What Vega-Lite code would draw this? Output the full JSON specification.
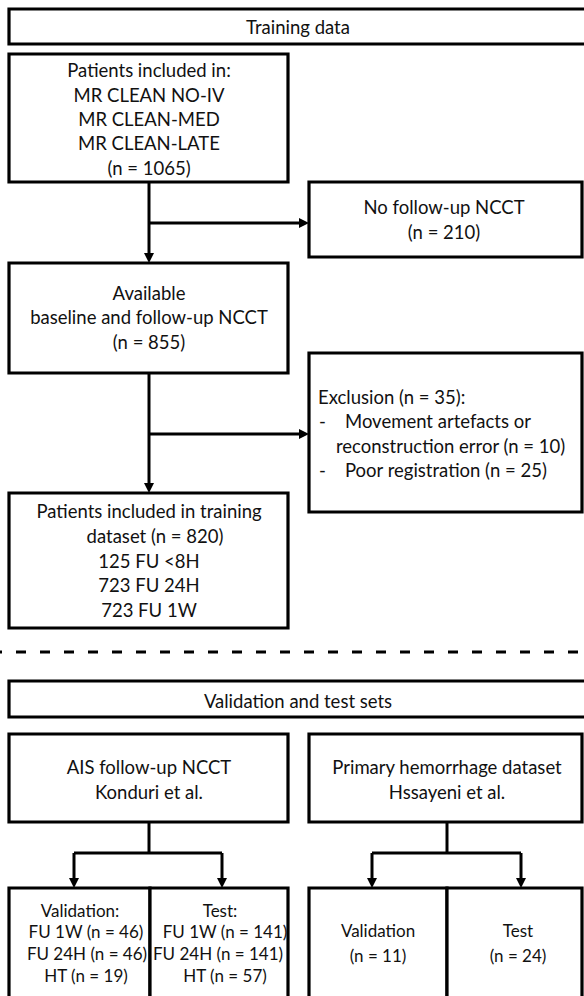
{
  "$schema": "https://vega.github.io/schema/vega-lite/v6.json",
  "width": 584,
  "height": 996,
  "padding": 0,
  "autosize": {"type": "none"},
  "background": "white",
  "config": {"view": {"stroke": null}},
  "datasets": {
    "boxes": [
      {"name": "Training data", "x1": 9, "x2": 600, "y1": 9, "y2": 44},
      {"name": "Patients included", "x1": 9, "x2": 288, "y1": 54, "y2": 182},
      {"name": "No follow-up", "x1": 309, "x2": 582, "y1": 182, "y2": 257},
      {"name": "Available", "x1": 9, "x2": 288, "y1": 263, "y2": 373},
      {"name": "Exclusion", "x1": 309, "x2": 582, "y1": 353, "y2": 512},
      {"name": "Training dataset", "x1": 9, "x2": 288, "y1": 493, "y2": 628},
      {"name": "Validation and test sets", "x1": 9, "x2": 600, "y1": 681, "y2": 717},
      {"name": "AIS", "x1": 9, "x2": 288, "y1": 734, "y2": 822},
      {"name": "Primary", "x1": 309, "x2": 582, "y1": 734, "y2": 822},
      {"name": "AIS validation", "x1": 9, "x2": 150, "y1": 888, "y2": 1005},
      {"name": "AIS test", "x1": 150, "x2": 288, "y1": 888, "y2": 1005},
      {"name": "Primary validation", "x1": 309, "x2": 447, "y1": 888, "y2": 1005},
      {"name": "Primary test", "x1": 447, "x2": 582, "y1": 888, "y2": 1005}
    ],
    "lines": [
      {"x1": 149, "x2": 149, "y1": 182, "y2": 258},
      {"x1": 149, "x2": 304, "y1": 223, "y2": 223},
      {"x1": 149, "x2": 149, "y1": 373, "y2": 488},
      {"x1": 149, "x2": 304, "y1": 434, "y2": 434},
      {"x1": 149, "x2": 149, "y1": 822, "y2": 853},
      {"x1": 74, "x2": 222, "y1": 853, "y2": 853},
      {"x1": 74, "x2": 74, "y1": 853, "y2": 883},
      {"x1": 222, "x2": 222, "y1": 853, "y2": 883},
      {"x1": 447, "x2": 447, "y1": 822, "y2": 853},
      {"x1": 372, "x2": 521, "y1": 853, "y2": 853},
      {"x1": 372, "x2": 372, "y1": 853, "y2": 883},
      {"x1": 521, "x2": 521, "y1": 853, "y2": 883}
    ],
    "divider": [
      {"x1": 0, "x2": 584, "y1": 652, "y2": 652}
    ],
    "arrows": [
      {"dir": "down", "x": 149, "y": 258},
      {"dir": "right", "x": 304, "y": 223},
      {"dir": "down", "x": 149, "y": 488},
      {"dir": "right", "x": 304, "y": 434},
      {"dir": "down", "x": 74, "y": 883},
      {"dir": "down", "x": 222, "y": 883},
      {"dir": "down", "x": 372, "y": 883},
      {"dir": "down", "x": 521, "y": 883}
    ],
    "labels": [
      {"kind": "center", "x": 298, "y": 28, "text": "Training data"},
      {"kind": "center", "x": 149, "y": 71, "text": "Patients included in:"},
      {"kind": "center", "x": 149, "y": 96, "text": "MR CLEAN NO-IV"},
      {"kind": "center", "x": 149, "y": 120, "text": "MR CLEAN-MED"},
      {"kind": "center", "x": 149, "y": 144, "text": "MR CLEAN-LATE"},
      {"kind": "center", "x": 149, "y": 169, "text": "(n = 1065)"},
      {"kind": "center", "x": 444, "y": 208, "text": "No follow-up NCCT"},
      {"kind": "center", "x": 444, "y": 233, "text": "(n = 210)"},
      {"kind": "center", "x": 149, "y": 294, "text": "Available"},
      {"kind": "center", "x": 149, "y": 318, "text": "baseline and follow-up NCCT"},
      {"kind": "center", "x": 149, "y": 343, "text": "(n = 855)"},
      {"kind": "left", "x": 318, "y": 398, "text": "Exclusion (n = 35):"},
      {"kind": "left", "x": 319, "y": 422, "text": "-"},
      {"kind": "left", "x": 345, "y": 422, "text": "Movement artefacts or"},
      {"kind": "left", "x": 336, "y": 447, "text": "reconstruction error (n = 10)"},
      {"kind": "left", "x": 319, "y": 471, "text": "-"},
      {"kind": "left", "x": 345, "y": 471, "text": "Poor registration (n = 25)"},
      {"kind": "center", "x": 149, "y": 512, "text": "Patients included in training"},
      {"kind": "center", "x": 155, "y": 537, "text": "dataset (n = 820)"},
      {"kind": "center", "x": 149, "y": 562, "text": "125 FU <8H"},
      {"kind": "center", "x": 149, "y": 586, "text": "723 FU 24H"},
      {"kind": "center", "x": 149, "y": 611, "text": "723 FU 1W"},
      {"kind": "center", "x": 298, "y": 702, "text": "Validation and test sets"},
      {"kind": "center", "x": 149, "y": 768, "text": "AIS follow-up NCCT"},
      {"kind": "center", "x": 149, "y": 793, "text": "Konduri et al."},
      {"kind": "center", "x": 447, "y": 768, "text": "Primary hemorrhage dataset"},
      {"kind": "center", "x": 447, "y": 793, "text": "Hssayeni et al."},
      {"kind": "small", "x": 80, "y": 912, "text": "Validation:"},
      {"kind": "small", "x": 86, "y": 933, "text": "FU 1W (n = 46)"},
      {"kind": "small", "x": 87, "y": 955, "text": "FU 24H (n = 46)"},
      {"kind": "small", "x": 86, "y": 977, "text": "HT (n = 19)"},
      {"kind": "small", "x": 220, "y": 912, "text": "Test:"},
      {"kind": "small", "x": 225, "y": 933, "text": "FU 1W (n = 141)"},
      {"kind": "small", "x": 218, "y": 955, "text": "FU 24H (n = 141)"},
      {"kind": "small", "x": 225, "y": 977, "text": "HT (n = 57)"},
      {"kind": "small", "x": 378, "y": 932, "text": "Validation"},
      {"kind": "small", "x": 378, "y": 957, "text": "(n = 11)"},
      {"kind": "small", "x": 518, "y": 932, "text": "Test"},
      {"kind": "small", "x": 518, "y": 957, "text": "(n = 24)"}
    ]
  },
  "encoding": {
    "x": {"field": "x1", "type": "quantitative", "scale": {"domain": [0, 584], "nice": false, "zero": false}, "axis": null},
    "y": {"field": "y1", "type": "quantitative", "scale": {"domain": [0, 996], "nice": false, "zero": false, "reverse": true}, "axis": null}
  },
  "layer": [
    {
      "data": {"name": "boxes"},
      "mark": {"type": "rect", "fill": "white", "stroke": "black", "strokeWidth": 3.2},
      "encoding": {"x2": {"field": "x2"}, "y2": {"field": "y2"}}
    },
    {
      "data": {"name": "lines"},
      "mark": {"type": "rule", "color": "black", "strokeWidth": 3},
      "encoding": {"x2": {"field": "x2"}, "y2": {"field": "y2"}}
    },
    {
      "data": {"name": "divider"},
      "mark": {"type": "rule", "color": "black", "strokeWidth": 3, "strokeDash": [10, 14], "strokeDashOffset": 8},
      "encoding": {"x2": {"field": "x2"}, "y2": {"field": "y2"}}
    },
    {
      "data": {"name": "arrows"},
      "transform": [{"filter": "datum.dir === 'down'"}],
      "mark": {"type": "point", "shape": "M-1,-1L1,-1L0,1Z", "filled": true, "color": "black", "opacity": 1, "size": 100, "strokeWidth": 0},
      "encoding": {
        "x": {"field": "x", "type": "quantitative"},
        "y": {"field": "y", "type": "quantitative"}
      }
    },
    {
      "data": {"name": "arrows"},
      "transform": [{"filter": "datum.dir === 'right'"}],
      "mark": {"type": "point", "shape": "M-1,-1L1,0L-1,1Z", "filled": true, "color": "black", "opacity": 1, "size": 100, "strokeWidth": 0},
      "encoding": {
        "x": {"field": "x", "type": "quantitative"},
        "y": {"field": "y", "type": "quantitative"}
      }
    },
    {
      "data": {"name": "labels"},
      "transform": [{"filter": "datum.kind === 'center'"}],
      "mark": {"type": "text", "font": "Lato", "fontSize": 18.5, "align": "center", "baseline": "middle", "color": "#111"},
      "encoding": {
        "x": {"field": "x", "type": "quantitative"},
        "y": {"field": "y", "type": "quantitative"},
        "text": {"field": "text"}
      }
    },
    {
      "data": {"name": "labels"},
      "transform": [{"filter": "datum.kind === 'left'"}],
      "mark": {"type": "text", "font": "Lato", "fontSize": 18.5, "align": "left", "baseline": "middle", "color": "#111"},
      "encoding": {
        "x": {"field": "x", "type": "quantitative"},
        "y": {"field": "y", "type": "quantitative"},
        "text": {"field": "text"}
      }
    },
    {
      "data": {"name": "labels"},
      "transform": [{"filter": "datum.kind === 'small'"}],
      "mark": {"type": "text", "font": "Lato", "fontSize": 17, "align": "center", "baseline": "middle", "color": "#111"},
      "encoding": {
        "x": {"field": "x", "type": "quantitative"},
        "y": {"field": "y", "type": "quantitative"},
        "text": {"field": "text"}
      }
    }
  ]
}
